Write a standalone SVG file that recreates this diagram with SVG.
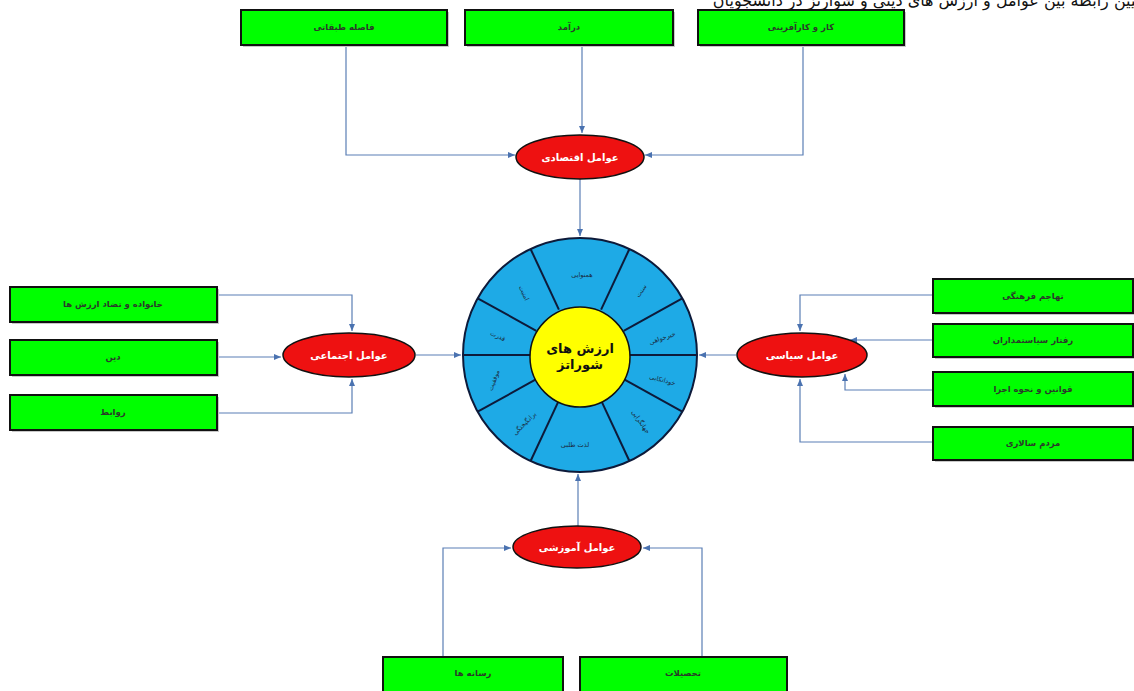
<svg xmlns="http://www.w3.org/2000/svg" width="1134" height="691" viewBox="0 0 1134 691">
<defs>
<style>
.box{fill:#00ff00;stroke:#111;stroke-width:2}
.shd{fill:#c8c8c8}
.bt{font-family:"DejaVu Sans",sans-serif;font-size:8.5px;font-weight:bold;fill:#2a3a2a;text-anchor:middle;direction:rtl}
.ell{fill:#ee1111;stroke:#111;stroke-width:1.5}
.et{font-family:"DejaVu Sans",sans-serif;font-size:10px;font-weight:bold;fill:#fff;text-anchor:middle;direction:rtl}
.cn{fill:none;stroke:#5b7fb5;stroke-width:1.2}
.seg{stroke:#0d1a3a;stroke-width:2}
.st{font-family:"DejaVu Sans",sans-serif;font-size:6.5px;fill:#1a2a40;text-anchor:middle;direction:rtl}
</style>
<marker id="ar" markerWidth="8" markerHeight="8" refX="7" refY="4" orient="auto" markerUnits="userSpaceOnUse">
<path d="M0,1 L7,4 L0,7 Z" fill="#4a72b0"/>
</marker>
</defs>
<rect width="1134" height="691" fill="#fff"/>
<text x="1145" y="6" font-family="DejaVu Sans,sans-serif" font-size="16" fill="#111" direction="rtl" text-anchor="start">تبیین رابطه بین عوامل و ارزش های دینی و شوارتز در دانشجویان</text>

<g id="connectors">
<path class="cn" d="M346,45 V155 H515" marker-end="url(#ar)"/>
<path class="cn" d="M582,45 V133" marker-end="url(#ar)"/>
<path class="cn" d="M803,45 V155 H645" marker-end="url(#ar)"/>
<path class="cn" d="M580,179 V236" marker-end="url(#ar)"/>
<path class="cn" d="M219,295 H352 V331" marker-end="url(#ar)"/>
<path class="cn" d="M219,357 H281" marker-end="url(#ar)"/>
<path class="cn" d="M219,413 H352 V379" marker-end="url(#ar)"/>
<path class="cn" d="M416,355 H461" marker-end="url(#ar)"/>
<path class="cn" d="M933,295 H800 V331" marker-end="url(#ar)"/>
<path class="cn" d="M933,340 H850" marker-end="url(#ar)"/>
<path class="cn" d="M933,390 H845 V374" marker-end="url(#ar)"/>
<path class="cn" d="M933,442 H800 V379" marker-end="url(#ar)"/>
<path class="cn" d="M736,355 H699" marker-end="url(#ar)"/>
<path class="cn" d="M443,656 V548 H511" marker-end="url(#ar)"/>
<path class="cn" d="M702,656 V548 H643" marker-end="url(#ar)"/>
<path class="cn" d="M578,526 V474" marker-end="url(#ar)"/>
</g>

<g id="wheel">
<circle cx="580" cy="355" r="117" fill="#1eaae6" stroke="#0d1a3a" stroke-width="2"/>
<line class="seg" x1="630" y1="355" x2="697" y2="355"/>
<line class="seg" x1="623.7" y1="330.8" x2="682.3" y2="298.3"/>
<line class="seg" x1="601.1" y1="309.7" x2="629.4" y2="249"/>
<line class="seg" x1="558.9" y1="309.7" x2="530.6" y2="249"/>
<line class="seg" x1="536.3" y1="330.8" x2="477.7" y2="298.3"/>
<line class="seg" x1="530" y1="355" x2="463" y2="355"/>
<line class="seg" x1="536.3" y1="379.2" x2="477.7" y2="411.7"/>
<line class="seg" x1="558.9" y1="400.3" x2="530.6" y2="461"/>
<line class="seg" x1="601.1" y1="400.3" x2="629.4" y2="461"/>
<line class="seg" x1="623.7" y1="379.2" x2="682.3" y2="411.7"/>
<circle cx="580" cy="357" r="50" fill="#ffff00" stroke="#111" stroke-width="1.5"/>
<text class="st" x="582" y="277">همنوایی</text>
<text class="st" transform="translate(643,292) rotate(-55)">سنت</text>
<text class="st" transform="translate(663,340) rotate(-20)">خیرخواهی</text>
<text class="st" transform="translate(662,382) rotate(15)">خوداتکایی</text>
<text class="st" transform="translate(639,423) rotate(55)">جهانگرایی</text>
<text class="st" x="575" y="447">لذت طلبی</text>
<text class="st" transform="translate(526,425) rotate(-45)">برانگیختگی</text>
<text class="st" transform="translate(496,381) rotate(-70)">موفقیت</text>
<text class="st" transform="translate(497,338) rotate(25)">قدرت</text>
<text class="st" transform="translate(522,294) rotate(65)">امنیت</text>
<text x="580" y="353" font-family="DejaVu Sans,sans-serif" font-size="13" font-weight="bold" fill="#111" text-anchor="middle" direction="rtl">ارزش های</text>
<text x="580" y="369" font-family="DejaVu Sans,sans-serif" font-size="13" font-weight="bold" fill="#111" text-anchor="middle" direction="rtl">شوراتز</text>
</g>

<g id="econ"><ellipse class="ell" cx="580" cy="157" rx="64" ry="22"/><text class="et" x="580" y="161">عوامل اقتصادی</text></g>
<g id="social"><ellipse class="ell" cx="349" cy="355" rx="66" ry="22"/><text class="et" x="349" y="359">عوامل اجتماعی</text></g>
<g id="political"><ellipse class="ell" cx="802" cy="355" rx="65" ry="22"/><text class="et" x="802" y="359">عوامل سیاسی</text></g>
<g id="edu"><ellipse class="ell" cx="577" cy="547" rx="64" ry="21"/><text class="et" x="577" y="551">عوامل آموزشی</text></g>

<g id="b1"><rect class="shd" x="243" y="12" width="206" height="35"/><rect class="box" x="241" y="10" width="206" height="35"/><text class="bt" x="344" y="30">فاصله طبقاتی</text></g>
<g id="b2"><rect class="shd" x="467" y="12" width="208" height="35"/><rect class="box" x="465" y="10" width="208" height="35"/><text class="bt" x="569" y="30">درآمد</text></g>
<g id="b3"><rect class="shd" x="700" y="12" width="206" height="35"/><rect class="box" x="698" y="10" width="206" height="35"/><text class="bt" x="801" y="30">کار و کارآفرینی</text></g>

<g id="l1"><rect class="shd" x="12" y="289" width="207" height="35"/><rect class="box" x="10" y="287" width="207" height="35"/><text class="bt" x="113" y="307">خانواده و تضاد ارزش ها</text></g>
<g id="l2"><rect class="shd" x="12" y="342" width="207" height="35"/><rect class="box" x="10" y="340" width="207" height="35"/><text class="bt" x="113" y="360">دین</text></g>
<g id="l3"><rect class="shd" x="12" y="397" width="207" height="35"/><rect class="box" x="10" y="395" width="207" height="35"/><text class="bt" x="113" y="415">روابط</text></g>

<g id="r1"><rect class="shd" x="935" y="281" width="200" height="34"/><rect class="box" x="933" y="279" width="200" height="34"/><text class="bt" x="1033" y="299">تهاجم فرهنگی</text></g>
<g id="r2"><rect class="shd" x="935" y="326" width="200" height="33"/><rect class="box" x="933" y="324" width="200" height="33"/><text class="bt" x="1033" y="343">رفتار سیاستمداران</text></g>
<g id="r3"><rect class="shd" x="935" y="374" width="200" height="34"/><rect class="box" x="933" y="372" width="200" height="34"/><text class="bt" x="1033" y="392">قوانین و نحوه اجرا</text></g>
<g id="r4"><rect class="shd" x="935" y="429" width="200" height="33"/><rect class="box" x="933" y="427" width="200" height="33"/><text class="bt" x="1033" y="446">مردم سالاری</text></g>

<g id="d1"><rect class="box" x="383" y="657" width="180" height="36"/><text class="bt" x="473" y="676">رسانه ها</text></g>
<g id="d2"><rect class="box" x="580" y="657" width="207" height="36"/><text class="bt" x="683" y="676">تحصیلات</text></g>
</svg>
